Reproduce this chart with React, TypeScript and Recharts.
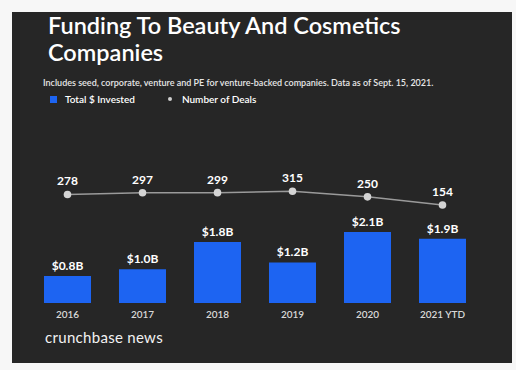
import React from 'react';
import { ComposedChart, Bar, Line, XAxis, YAxis, LabelList } from 'recharts';

const years = ['2016', '2017', '2018', '2019', '2020', '2021 YTD'];
const invested = [0.8, 1.0, 1.8, 1.2, 2.1, 1.9];
const deals = [278, 297, 299, 315, 250, 154];

const data = years.map((year, i) => ({ year, invested: invested[i], deals: deals[i] }));

const FONT = 'Lato, "Open Sans", sans-serif';
const BLUE = '#1d64f2';

export default function App() {
  return (
    <div style={{ position: 'absolute', left: 0, top: 0, width: 516, height: 370, background: '#f7f7f7', fontFamily: FONT }}>
      <div style={{ position: 'absolute', left: 12, top: 12, width: 500, height: 351, background: '#262626' }} />
      <div style={{ position: 'absolute', left: 48, top: 12, color: '#fff', fontSize: 23.5, fontWeight: 600, lineHeight: '27px' }}>
        Funding To Beauty And Cosmetics
        <br />
        Companies
      </div>
      <div style={{ position: 'absolute', left: 43, top: 77, color: '#e6e6e6', fontSize: 9, fontWeight: 600 }}>
        Includes seed, corporate, venture and PE for venture-backed companies. Data as of Sept. 15, 2021.
      </div>
      <div style={{ position: 'absolute', left: 50, top: 93, color: '#fff', fontSize: 10, fontWeight: 600, display: 'flex', alignItems: 'center' }}>
        <span style={{ width: 7, height: 7, background: BLUE, display: 'inline-block', marginRight: 8 }} />
        <span>Total $ Invested</span>
        <span style={{ width: 4, height: 4, borderRadius: 2, background: '#d0d0d0', display: 'inline-block', marginLeft: 33, marginRight: 10 }} />
        <span>Number of Deals</span>
      </div>
      <div style={{ position: 'absolute', left: 45, top: 328, color: '#f2f2f2', fontSize: 15, letterSpacing: 0.3 }}>
        crunchbase news
      </div>
      <div style={{ position: 'absolute', left: 0, top: 0 }}>
        <ComposedChart width={516} height={370} data={data} margin={{ top: 166, right: 36, bottom: 37, left: 30 }}>
          <XAxis
            dataKey="year"
            axisLine={false}
            tickLine={false}
            interval={0}
            tick={{ fill: '#d8d8d8', fontSize: 10, fontWeight: 600, fontFamily: FONT }}
          />
          <YAxis yAxisId="b" hide domain={[0, 4.05]} />
          <YAxis yAxisId="d" hide domain={[-990, 610]} />
          <Bar yAxisId="b" dataKey="invested" fill={BLUE} barSize={47} isAnimationActive={false}>
            <LabelList
              dataKey="invested"
              position="top"
              offset={6}
              formatter={(v: number) => `$${v.toFixed(1)}B`}
              style={{ fill: '#fff', fontSize: 12, fontWeight: 700, fontFamily: FONT }}
            />
          </Bar>
          <Line
            yAxisId="d"
            dataKey="deals"
            stroke="#9a9a9a"
            strokeWidth={1.5}
            dot={{ r: 3.8, fill: '#d4d4d4', stroke: 'none' }}
            isAnimationActive={false}
          >
            <LabelList
              dataKey="deals"
              position="top"
              offset={9}
              style={{ fill: '#fff', fontSize: 12, fontWeight: 700, fontFamily: FONT }}
            />
          </Line>
        </ComposedChart>
      </div>
    </div>
  );
}
